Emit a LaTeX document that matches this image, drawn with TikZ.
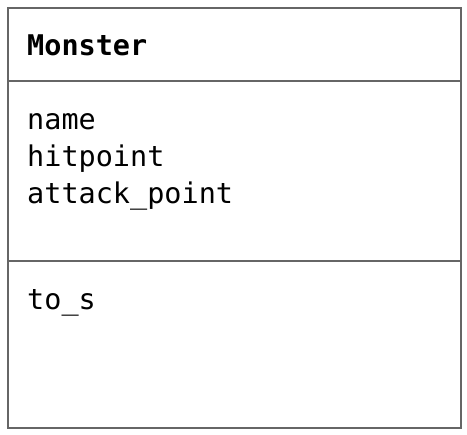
\documentclass[tikz,border=0pt]{standalone}
\usepackage{fontspec}
\setmonofont{DejaVu Sans Mono}
\usetikzlibrary{positioning}
\tikzset{
  part/.style={draw=black!60, line width=1.6pt, minimum width=453pt, inner sep=0pt, anchor=north west},
  member/.style={anchor=base west, inner sep=0pt, font=\ttfamily\fontsize{28.5}{37}\selectfont}
}
\begin{document}
\begin{tikzpicture}[x=1pt, y=-1pt]
\useasboundingbox (0,0) rectangle (467,435);
%% class compartments
\node[part, minimum height=73pt] (title) at (7,7) {};
\node[part, minimum height=180pt] (attrs) at (7,80) {};
\node[part, minimum height=167pt] (ops) at (7,260) {};

% class name
\node[member, font=\ttfamily\bfseries\fontsize{28.5}{37}\selectfont] (cname) at (27,56) {Monster};

% attributes
\node[member] (aname) at (27,130) {name};
\node[member] (ahit) at (27,167) {hitpoint};
\node[member] (aatk) at (27,204) {attack\_point};

% operations
\node[member] (oto) at (27,310) {to\_s};
\end{tikzpicture}
\end{document}
